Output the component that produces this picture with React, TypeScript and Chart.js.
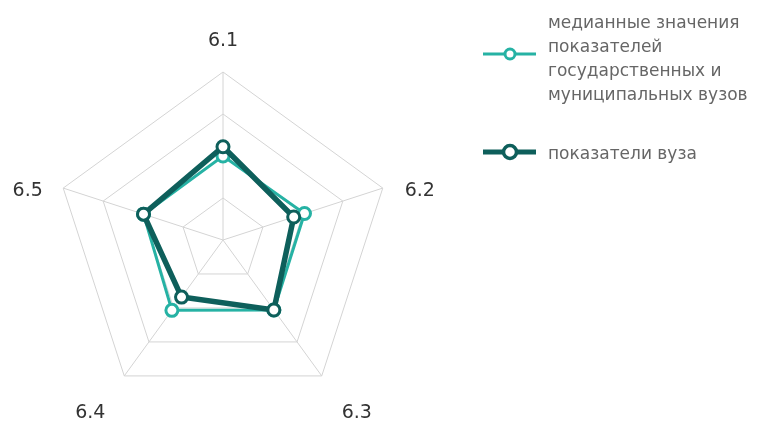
import React, { useEffect, useRef } from "react";
import { Chart, registerables } from "chart.js";

Chart.register(...registerables);

const categories = ["6.1", "6.2", "6.3", "6.4", "6.5"];
const medianValues = [2.0, 2.04, 2.06, 2.07, 1.99];
const universityValues = [2.22, 1.77, 2.06, 1.68, 1.99];
const medianLabel = "медианные значения показателей государственных и муниципальных вузов";
const medianLegendLines = ["медианные значения", "показателей", "государственных и", "муниципальных вузов"];
const universityLabel = "показатели вуза";

const TEAL = "#26b2a4";
const DARK = "#0e5f5b";
const FONT = "'DejaVu Sans', sans-serif";

// offsets of axis-label centres from the outer vertex of each axis
const LABEL_OFFSETS: [number, number][] = [
  [0, -30.5],
  [37, 2.5],
  [35, 37],
  [-34, 37],
  [-35.5, 2.5],
];

const axisLabelPlugin = {
  id: "axisLabels",
  afterDraw(chart: any) {
    const scale = chart.scales.r;
    const ctx = chart.ctx;
    ctx.save();
    ctx.font = `19px ${FONT}`;
    ctx.fillStyle = "#333333";
    ctx.textAlign = "center";
    ctx.textBaseline = "middle";
    const labels = chart.data.labels as string[];
    labels.forEach((lab, i) => {
      const p = scale.getPointPosition(i, scale.drawingArea);
      const [dx, dy] = LABEL_OFFSETS[i];
      ctx.fillText(lab, p.x + dx, p.y + dy);
    });
    ctx.restore();
  },
};

export default function App() {
  const canvasRef = useRef<HTMLCanvasElement | null>(null);

  useEffect(() => {
    if (!canvasRef.current) return;
    const chart = new Chart(canvasRef.current, {
      type: "radar",
      data: {
        labels: categories,
        datasets: [
          {
            label: universityLabel,
            data: universityValues,
            borderColor: DARK,
            backgroundColor: "rgba(0,0,0,0)",
            borderWidth: 5.5,
            pointRadius: 6,
            pointBorderWidth: 3,
            pointBackgroundColor: "#ffffff",
            pointBorderColor: DARK,
            fill: false,
            order: 0,
          },
          {
            label: medianLabel,
            data: medianValues,
            borderColor: TEAL,
            backgroundColor: "rgba(0,0,0,0)",
            borderWidth: 3,
            pointRadius: 6,
            pointBorderWidth: 3,
            pointBackgroundColor: "#ffffff",
            pointBorderColor: TEAL,
            fill: false,
            order: 1,
          },
        ],
      },
      options: {
        animation: false,
        responsive: true,
        maintainAspectRatio: false,
        layout: { padding: { left: 55, right: 367, top: 72, bottom: 15 } },
        plugins: { legend: { display: false }, tooltip: { enabled: false } },
        scales: {
          r: {
            min: 0,
            max: 4,
            ticks: { display: false, stepSize: 1 },
            grid: { color: "#d4d4d4", lineWidth: 1 },
            angleLines: { color: "#d4d4d4", lineWidth: 1 },
            pointLabels: { display: false },
          },
        },
      },
      plugins: [axisLabelPlugin],
    });
    return () => chart.destroy();
  }, []);

  const textStyle: React.CSSProperties = {
    position: "absolute",
    left: 548,
    fontSize: 17,
    lineHeight: "24px",
    color: "#666",
    whiteSpace: "nowrap",
  };

  return (
    <div style={{ position: "fixed", left: 0, top: 0, width: 758, height: 423, fontFamily: FONT }}>
      <div style={{ position: "absolute", left: 0, top: 0, width: 758, height: 423 }}>
        <canvas ref={canvasRef} />
      </div>
      <svg style={{ position: "absolute", left: 480, top: 44 }} width={60} height={20}>
        <line x1={3} y1={10} x2={56} y2={10} stroke={TEAL} strokeWidth={3} />
        <circle cx={30} cy={10} r={5} fill="#fff" stroke={TEAL} strokeWidth={3} />
      </svg>
      <div style={{ ...textStyle, top: 10 }}>
        {medianLegendLines.map((l, i) => (
          <div key={i}>{l}</div>
        ))}
      </div>
      <svg style={{ position: "absolute", left: 480, top: 142 }} width={60} height={20}>
        <line x1={3} y1={10} x2={56} y2={10} stroke={DARK} strokeWidth={5} />
        <circle cx={30} cy={10} r={6.5} fill="#fff" stroke={DARK} strokeWidth={3.5} />
      </svg>
      <div style={{ ...textStyle, top: 141 }}>{universityLabel}</div>
    </div>
  );
}
